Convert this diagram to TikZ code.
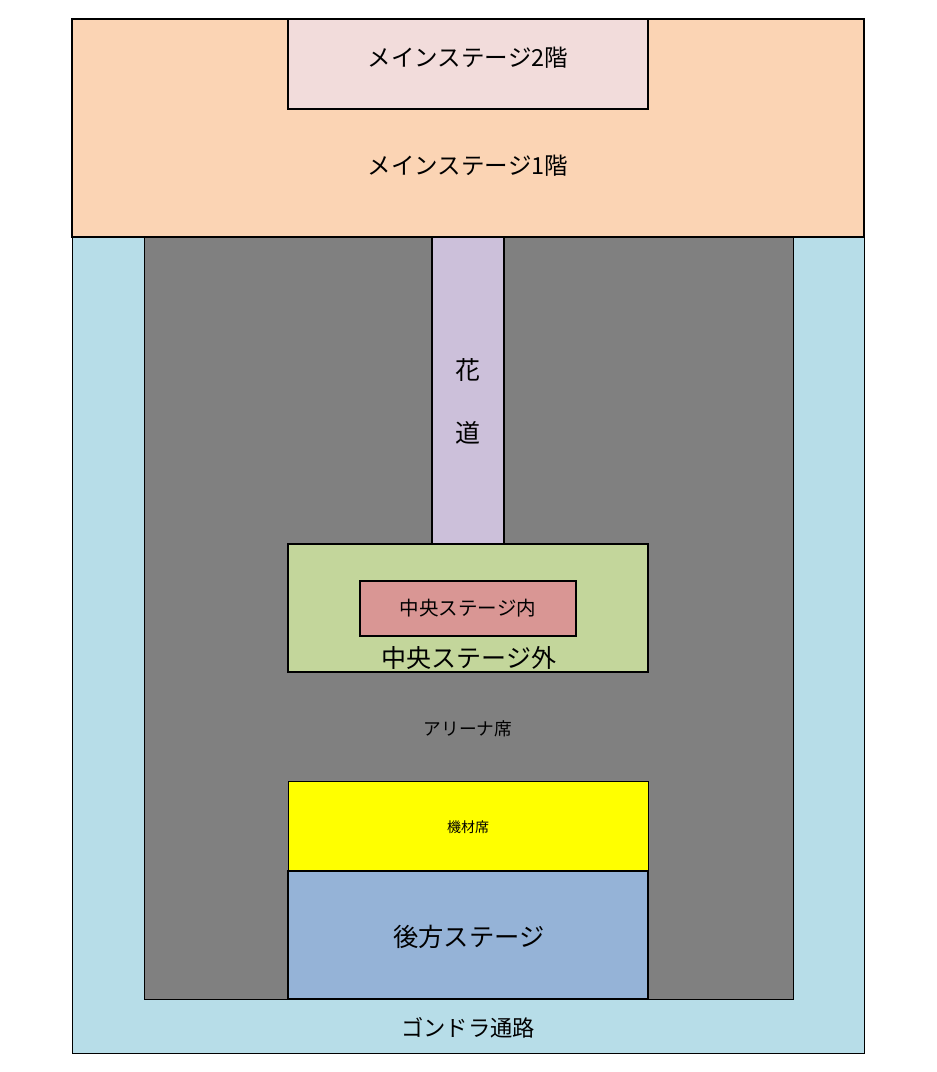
\documentclass[tikz,border=0pt]{standalone}
\usepackage{fontspec}
\setmainfont{Noto Sans CJK JP}
\definecolor{peach}{RGB}{251,212,180}
\definecolor{pinklt}{RGB}{242,220,219}
\definecolor{lblue}{RGB}{183,221,232}
\definecolor{grayA}{RGB}{128,128,128}
\definecolor{lav}{RGB}{204,192,218}
\definecolor{grn}{RGB}{195,214,155}
\definecolor{rose}{RGB}{217,150,148}
\definecolor{ylw}{RGB}{255,255,0}
\definecolor{blu}{RGB}{149,179,215}
\begin{document}
\begin{tikzpicture}[x=1pt,y=-1pt,
  thinbox/.style={draw=black,line width=1pt},
  thickbox/.style={draw=black,line width=2pt},
  lbl/.style={inner sep=0pt,text=black}]
\useasboundingbox (0,0) rectangle (937,1072);
\fill[white] (0,0) rectangle (937,1072);
% gondola aisle
\path[thinbox,fill=lblue] (72,237) rectangle (864,1053);
\coordinate (gondola) at (468,1027.5);
% arena
\path[thinbox,fill=grayA] (144,237) rectangle (793,999);
% main stage 1F
\path[thickbox,fill=peach] (72,19) rectangle (864,237);
% main stage 2F
\path[thickbox,fill=pinklt] (288,19) rectangle (648,109);
% hanamichi
\path[thickbox,fill=lav] (432,237) rectangle (504,544);
% central stage outer
\path[thickbox,fill=grn] (288,544) rectangle (648,672);
% central stage inner
\path[thickbox,fill=rose] (360,581) rectangle (576,636);
% equipment seats
\path[thinbox,fill=ylw] (288,781) rectangle (648,871);
% rear stage
\path[thickbox,fill=blu] (288,871) rectangle (648,999);

\node[lbl,font=\fontsize{23.5}{27}\selectfont] (m2) at (468,57.5) {メインステージ2階};
\node[lbl,font=\fontsize{23.5}{27}\selectfont] (m1) at (468,166) {メインステージ1階};
\node[lbl,font=\fontsize{25}{28}\selectfont] (hana) at (468,370) {花};
\node[lbl,font=\fontsize{25}{28}\selectfont] (michi) at (468,433) {道};
\node[lbl,font=\fontsize{19.5}{22}\selectfont] (cin) at (468,608) {中央ステージ内};
\node[lbl,font=\fontsize{25}{28}\selectfont] (cout) at (469,658) {中央ステージ外};
\node[lbl,font=\fontsize{17.7}{20}\selectfont] (arena) at (468,729) {アリーナ席};
\node[lbl,font=\fontsize{14}{16}\selectfont] (kizai) at (468,827) {機材席};
\node[lbl,font=\fontsize{25.3}{29}\selectfont] (rear) at (469,936.5) {後方ステージ};
\node[lbl,font=\fontsize{22.3}{25}\selectfont] (gond) at (gondola) {ゴンドラ通路};
\end{tikzpicture}
\end{document}
